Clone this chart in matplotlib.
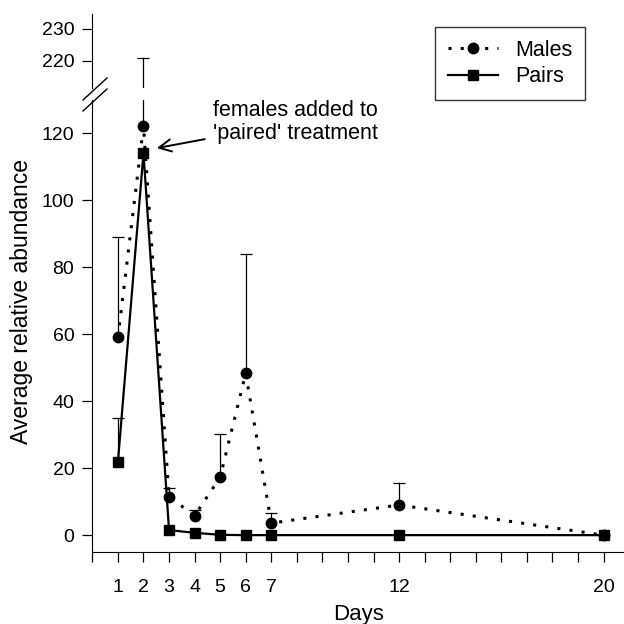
import numpy as np
import matplotlib.pyplot as plt
from matplotlib.lines import Line2D

plt.rcParams['font.family'] = ['Liberation Sans', 'DejaVu Sans']

# data
days = [1, 2, 3, 4, 5, 6, 7, 12, 20]
males = [59, 122, 11.5, 5.8, 17.3, 48.3, 3.6, 9, 0]
males_err = [30, 99, 2.5, 1.7, 13, 35.7, 3, 6.5, 0]
pairs = [21.8, 114, 1.5, 0.7, 0.1, 0, 0, 0, 0]
pairs_err = [13.2, 0, 0, 0, 0, 0, 0, 0, 0]

x_ticks = list(range(0, 21))
x_labels = ['', '1', '2', '3', '4', '5', '6', '7', '', '', '', '', '12',
            '', '', '', '', '', '', '', '20']
low_ticks = [0, 20, 40, 60, 80, 100, 120]
high_ticks = [220, 230]

fig = plt.figure(figsize=(6.24, 6.24), dpi=100)
left, width = 0.148, 0.852
ax_hi = fig.add_axes([left, 0.859, width, 0.119])
ax_lo = fig.add_axes([left, 0.115, width, 0.725])


def upper_errors(ax, x, y, err):
    # one-sided (upper) error bars with a cap on top only
    for xi, yi, ei in zip(x, y, err):
        if ei <= 0:
            continue
        ax.plot([xi, xi], [yi, yi + ei], color='black', lw=0.9, zorder=1)
        ax.plot([xi], [yi + ei], marker='_', markersize=9,
                markeredgewidth=0.9, color='black', zorder=1)


def draw(ax):
    upper_errors(ax, days, males, males_err)
    upper_errors(ax, days, pairs, pairs_err)
    ax.plot(days, males, color='black', linestyle=(0, (1, 3.0)), lw=2.2,
            marker='o', markersize=7.5, label='Males', zorder=3)
    ax.plot(days, pairs, color='black', linestyle='-', lw=1.6,
            marker='s', markersize=6.5, label='Pairs', zorder=3)
    ax.set_xlim(0, 20.8)
    for s in ['top', 'right']:
        ax.spines[s].set_visible(False)
    ax.tick_params(direction='out', length=7, width=0.9, labelsize=14)


draw(ax_hi)
draw(ax_lo)

ax_hi.set_ylim(211.6, 234.7)
ax_hi.set_yticks(high_ticks)
ax_hi.spines['bottom'].set_visible(False)
ax_hi.tick_params(axis='x', bottom=False, labelbottom=False)
ax_hi.tick_params(axis='y', pad=6)

ax_lo.set_ylim(-5.1, 129.9)
ax_lo.set_yticks(low_ticks)
ax_lo.set_xticks(x_ticks)
ax_lo.set_xticklabels(x_labels)
ax_lo.tick_params(axis='x', pad=12)
ax_lo.tick_params(axis='y', pad=6)
ax_lo.set_xlabel('Days', fontsize=16, labelpad=6)
ax_lo.set_ylabel('Average relative abundance', fontsize=16.5)
ax_lo.yaxis.set_label_coords(-0.112, 0.555)

# axis break marks
W, H = 624, 624
for yb in (89, 100):
    fig.add_artist(Line2D([83 / W, 107 / W],
                          [1 - (yb + 11) / H, 1 - (yb - 11) / H],
                          color='black', lw=1))

ax_lo.annotate("females added to\n'paired' treatment", xy=(2.52, 115.5),
               xytext=(4.72, 123.2), fontsize=15.5, va='center', ha='left',
               linespacing=1.15,
               arrowprops=dict(arrowstyle='->', color='black', lw=1.4,
                               mutation_scale=22, shrinkA=4, shrinkB=0))

handles, labels = ax_lo.get_legend_handles_labels()
leg = fig.legend(handles, labels, loc='upper right',
                 bbox_to_anchor=(585 / W, 1 - 27 / H),
                 fontsize=15.5, frameon=True, fancybox=False,
                 edgecolor='black', handlelength=2.3, borderpad=0.6,
                 labelspacing=0.25, borderaxespad=0)
leg.get_frame().set_linewidth(1.0)

fig.savefig('out.png', dpi=100)
